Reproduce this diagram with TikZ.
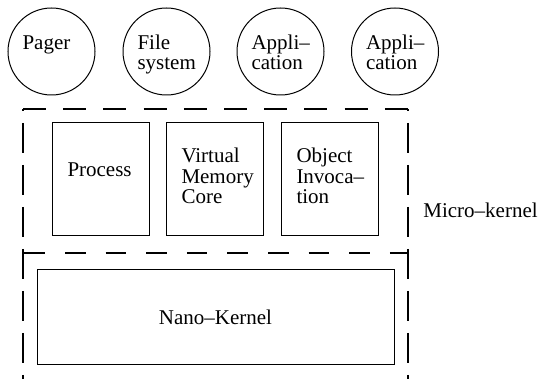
\documentclass[tikz,border=0pt]{standalone}
\usepackage{fontspec}
\setmainfont{Liberation Serif}
\usepackage{tikz}
\exhyphenpenalty=10000

\begin{document}
\begin{tikzpicture}[
  x=0.5pt, y=-0.5pt,
  every node/.style={font=\fontsize{10.5pt}{10.2pt}\selectfont},
  srvcircle/.style={draw, circle, line width=0.5pt, minimum size=43.5pt,
              inner sep=0pt, align=left, text width=29pt,
              text height=7.2pt, text depth=9.65pt},
  corebox/.style={draw, line width=0.5pt, minimum width=48.5pt,
              minimum height=56.5pt, inner sep=0pt, align=left,
              text width=33pt, text height=7.2pt, text depth=23.7pt},
  nanobox/.style={draw, line width=0.5pt, minimum width=178.5pt,
              minimum height=47.5pt},
  hdash/.style={line width=1.3pt, dash pattern=on 11.5pt off 8.6pt},
  ndash/.style={line width=1.3pt, dash pattern=on 10.25pt off 10.05pt,
              dash phase=19.6pt},
  vdash/.style={line width=1.3pt, dash pattern=on 15pt off 6pt,
              dash phase=14pt}
]
\clip (0, 0) rectangle (541, 379);

\node[srvcircle] (pager)   at (51.5,  51.5) {Pager};
\node[srvcircle] (filesys) at (166.5, 51.5) {File\\system};
\node[srvcircle] (appa)    at (280.5, 51.5) {\mbox{Appli--}\\cation};
\node[srvcircle] (appb)    at (395,   51.5) {\mbox{Appli--}\\cation};

\node[corebox, text depth=9.7pt] (process) at (100.5, 179.5) {Process};
\node[corebox] (vmcore) at (214.5, 179.5) {Virtual\\Memory\\Core};
\node[corebox] (objinv) at (329.5, 179.5) {Object\\\mbox{Invoca--}\\tion};

\node[nanobox] (nano) at (215.5, 317.5) {Nano--Kernel};

\coordinate (mtl) at (23,  109);
\coordinate (mtr) at (408, 109);
\coordinate (mbl) at (23,  400);
\coordinate (mbr) at (408, 400);
\coordinate (ntl) at (23,  253);
\coordinate (ntr) at (408, 253);

\draw[hdash] (mtl) -- (mtr);
\draw[vdash] (mtl) -- (mbl);
\draw[vdash] (mtr) -- (mbr);
\draw[ndash] (ntl) -- (ntr);

\node[anchor=base west, inner sep=0pt] (micro) at (423, 218) {Micro--kernel};
\end{tikzpicture}
\end{document}
